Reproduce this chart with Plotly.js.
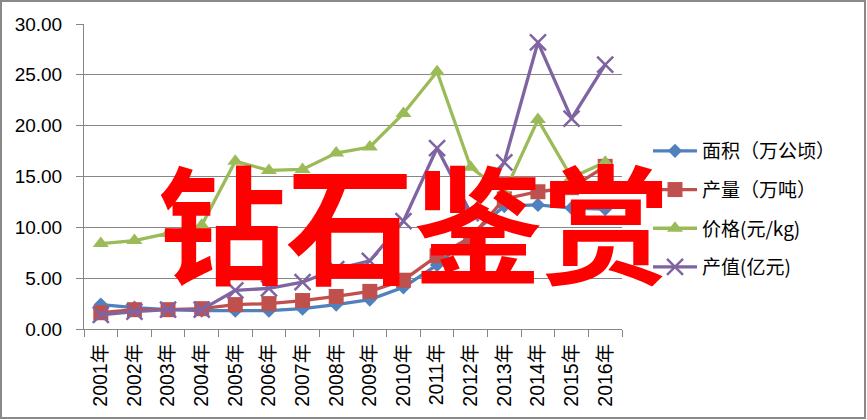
<!DOCTYPE html>
<html>
<head>
<meta charset="utf-8">
<script src="https://cdn.plot.ly/plotly-3.0.1.min.js"></script>
<style>
html,body{margin:0;padding:0;background:#fff;}
#chart{width:867px;height:420px;}
</style>
</head>
<body>
<div id="chart"></div>
<script>
const years = ["2001年","2002年","2003年","2004年","2005年","2006年","2007年","2008年","2009年","2010年","2011年","2012年","2013年","2014年","2015年","2016年"];
const seriesNames = ["面积（万公顷）","产量（万吨）","价格(元/kg)","产值(亿元)"];
const area =   [2.4, 2.1, 1.9, 1.8, 1.8, 1.8, 2.0, 2.4, 2.9, 4.1, 6.3, 9.2, 12.1, 12.2, 11.9, 11.8];
const output = [1.6, 1.9, 1.9, 2.0, 2.4, 2.5, 2.8, 3.2, 3.7, 4.8, 7.2, 9.0, 12.8, 13.5, 13.9, 16.0];
const price =  [8.4, 8.7, 9.4, 10.2, 16.5, 15.6, 15.7, 17.3, 17.9, 21.2, 25.3, 15.9, 13.4, 20.6, 14.9, 16.4];
const value =  [1.4, 1.7, 1.9, 1.9, 3.8, 4.0, 4.6, 5.9, 6.7, 10.6, 17.8, 11.4, 16.4, 28.2, 20.7, 26.0];
const yTicks = [0, 5, 10, 15, 20, 25, 30];
const overlayText = "钻石鉴赏";

const colors = ["#4F81BD", "#C0504D", "#9BBB59", "#8064A2"];
const symbols = ["diamond", "square", "triangle-up", "x-thin-open"];
const sizes = [11, 15, 14, 16];
const data = [area, output, price, value].map((ys, i) => ({
  type: "scatter",
  mode: "lines+markers",
  x: years,
  y: ys,
  name: seriesNames[i],
  legendgroup: "g" + i,
  line: {color: colors[i], width: 3.3},
  marker: {
    symbol: symbols[i],
    size: sizes[i],
    color: colors[i],
    line: {color: colors[i], width: i === 3 ? 2.5 : 0}
  }
}));

const L = 84, R = 622, T = 24, B = 329;
const pw = R - L, ph = B - T;
const px = v => (v - L) / pw;
const py = v => (B - v) / ph;

const layout = {
  width: 867,
  height: 420,
  margin: {l: L, r: 867 - R, t: T, b: 420 - B, pad: 0},
  paper_bgcolor: "#ffffff",
  plot_bgcolor: "#ffffff",
  showlegend: true,
  font: {family: "Liberation Sans, Noto Sans CJK SC, sans-serif", color: "#000"},
  xaxis: {
    type: "category",
    tickson: "boundaries",
    ticks: "outside",
    ticklen: 7,
    tickwidth: 1,
    tickcolor: "#868686",
    showline: true,
    linecolor: "#868686",
    linewidth: 1,
    showgrid: false,
    tickangle: -90,
    ticklabelstandoff: 6,
    tickfont: {size: 19.5, family: "Liberation Sans, Noto Sans CJK SC, sans-serif", color: "#000"},
    range: [-0.5, 15.5],
    fixedrange: true
  },
  yaxis: {
    range: [0, 30],
    tickvals: yTicks,
    tickformat: ".2f",
    ticks: "outside",
    ticklen: 7,
    tickwidth: 1,
    tickcolor: "#868686",
    showline: true,
    linecolor: "#868686",
    linewidth: 1,
    showgrid: true,
    gridcolor: "#868686",
    gridwidth: 1,
    zeroline: false,
    ticklabelstandoff: 10,
    tickfont: {size: 19, family: "Liberation Sans, sans-serif", color: "#000"},
    fixedrange: true
  },
  legend: {
    x: px(648),
    xanchor: "left",
    y: py(132),
    yanchor: "top",
    bgcolor: "rgba(0,0,0,0)",
    traceorder: "grouped",
    tracegroupgap: 11,
    itemwidth: 44,
    font: {size: 19, family: "Noto Sans CJK SC, sans-serif", color: "#000"}
  },
  shapes: [{
    type: "rect",
    xref: "paper", yref: "paper",
    x0: px(1), x1: px(865), y0: py(418), y1: py(1),
    line: {color: "#898989", width: 2},
    fillcolor: "rgba(0,0,0,0)",
    layer: "below"
  }],
  annotations: [{
    xref: "paper", yref: "paper",
    x: px(414), y: py(219),
    xanchor: "center", yanchor: "middle",
    text: overlayText,
    showarrow: false,
    font: {size: 128, family: "Noto Sans CJK SC, sans-serif", weight: 700, color: "#ff0000"}
  }]
};

const gd = document.getElementById("chart");
Plotly.newPlot(gd, data, layout, {staticPlot: true, displayModeBar: false}).then(() => {
  gd.querySelectorAll(".annotation").forEach(a => a.parentNode.appendChild(a));
});
</script>
</body>
</html>
